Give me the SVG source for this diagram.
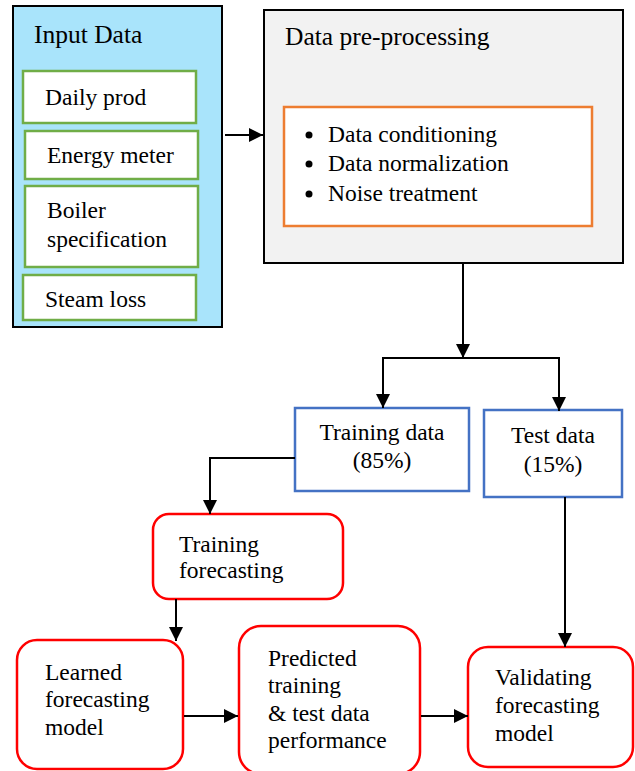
<svg xmlns="http://www.w3.org/2000/svg" width="635" height="771" viewBox="0 0 635 771">
<style>
text{font-family:"Liberation Serif","Times New Roman",serif;font-size:23.5px;fill:#000}
.title{font-size:25.5px}
.mid{text-anchor:middle}
.blk{fill:none;stroke:#000;stroke-width:2}
.grn{fill:#fff;stroke:#70ad47;stroke-width:2.5}
.org{fill:#fff;stroke:#ed7d31;stroke-width:2.5}
.blu{fill:#fff;stroke:#4472c4;stroke-width:2.5}
.red{fill:#fff;stroke:#ff0000;stroke-width:2.5}
.con{fill:none;stroke:#000;stroke-width:2}
</style>
<defs>
<marker id="ah" markerUnits="userSpaceOnUse" markerWidth="14" markerHeight="14" refX="14" refY="7" orient="auto">
<path d="M0,0 L14,7 L0,14 z" fill="#000"/>
</marker>
</defs>
<rect width="635" height="771" fill="#fff"/>

<g id="input-data">
<rect x="13" y="6" width="209" height="321" fill="#a9e4fb" stroke="#000" stroke-width="2"/>
<text class="title" x="34" y="43">Input Data</text>
</g>
<g id="daily-prod">
<rect class="grn" x="23" y="71" width="173" height="52"/>
<text x="45" y="105">Daily prod</text>
</g>
<g id="energy-meter">
<rect class="grn" x="25" y="131" width="173" height="48"/>
<text x="47" y="163">Energy meter</text>
</g>
<g id="boiler-spec">
<rect class="grn" x="25" y="186" width="173" height="81"/>
<text x="47" y="218">Boiler</text>
<text x="47" y="247">specification</text>
</g>
<g id="steam-loss">
<rect class="grn" x="23" y="275" width="173" height="45"/>
<text x="45" y="307">Steam loss</text>
</g>

<g id="preprocessing">
<rect x="264" y="10" width="359" height="253" fill="#f2f2f2" stroke="#000" stroke-width="2"/>
<text class="title" x="285" y="45">Data pre-processing</text>
</g>
<g id="preprocessing-steps">
<rect class="org" x="284" y="107" width="308" height="119"/>
<circle cx="309" cy="135" r="3.5" fill="#000"/>
<circle cx="309" cy="164" r="3.5" fill="#000"/>
<circle cx="309" cy="194" r="3.5" fill="#000"/>
<text x="328" y="142">Data conditioning</text>
<text x="328" y="171">Data normalization</text>
<text x="328" y="201">Noise treatment</text>
</g>

<g id="training-data">
<rect class="blu" x="295" y="408" width="174" height="83"/>
<text class="mid" x="382" y="440">Training data</text>
<text class="mid" x="382" y="468">(85%)</text>
</g>
<g id="test-data">
<rect class="blu" x="484" y="410" width="138" height="87"/>
<text class="mid" x="553" y="443">Test data</text>
<text class="mid" x="553" y="472">(15%)</text>
</g>

<g id="training-forecasting">
<rect class="red" x="153" y="514" width="190" height="85" rx="16"/>
<text x="179" y="552">Training</text>
<text x="179" y="578">forecasting</text>
</g>
<g id="learned-model">
<rect class="red" x="17" y="640" width="166" height="129" rx="20"/>
<text x="45" y="680">Learned</text>
<text x="45" y="707">forecasting</text>
<text x="45" y="735">model</text>
</g>
<g id="predicted">
<rect class="red" x="239" y="626" width="181" height="148" rx="22"/>
<text x="268" y="666">Predicted</text>
<text x="268" y="693">training</text>
<text x="268" y="721">&amp; test data</text>
<text x="268" y="748">performance</text>
</g>
<g id="validating">
<rect class="red" x="468" y="647" width="165" height="120" rx="20"/>
<text x="495" y="685">Validating</text>
<text x="495" y="713">forecasting</text>
<text x="495" y="741">model</text>
</g>

<g id="connectors">
<path class="con" d="M225,135 H263" marker-end="url(#ah)"/>
<path class="con" d="M463,263 V358" marker-end="url(#ah)"/>
<path class="con" d="M463,358 H383 V408" marker-end="url(#ah)"/>
<path class="con" d="M463,358 H559 V411" marker-end="url(#ah)"/>
<path class="con" d="M295,458 H210 V514" marker-end="url(#ah)"/>
<path class="con" d="M176,599 V641" marker-end="url(#ah)"/>
<path class="con" d="M184,716 H238" marker-end="url(#ah)"/>
<path class="con" d="M421,716 H468" marker-end="url(#ah)"/>
<path class="con" d="M565,497 V647" marker-end="url(#ah)"/>
</g>
</svg>
